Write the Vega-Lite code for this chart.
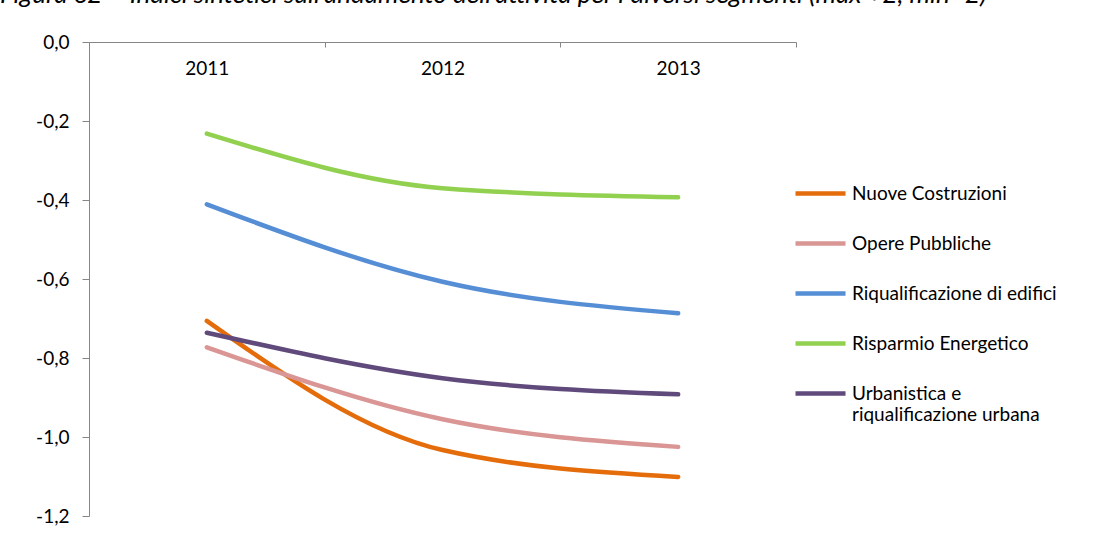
{
  "$schema": "https://vega.github.io/schema/vega-lite/v6.json",
  "autosize": {"type": "none"},
  "padding": {"left": 89, "top": 42, "right": 310, "bottom": 36},
  "width": 707,
  "height": 474,
  "config": {
    "view": {"stroke": null},
    "locale": {"number": {"decimal": ",", "thousands": ".", "grouping": [3], "currency": ["€", ""], "minus": "-"}},
    "axis": {"labelFont": "Lato", "labelFontSize": 19, "labelColor": "#000000", "domainColor": "#868686", "tickColor": "#868686", "grid": false, "title": null}
  },
  "title": {
    "text": "Figura 62 – Indici sintetici sull'andamento dell'attività per i diversi segmenti (max +2, min -2)",
    "font": "Lato", "fontSize": 26, "fontStyle": "italic", "fontWeight": "normal", "color": "#000000",
    "anchor": "start", "frame": "group", "dx": -89, "offset": 4, "baseline": "alphabetic"
  },
  "data": {"values": [
    {"year": "2011", "serie": "Nuove Costruzioni", "v": -0.706},
    {"year": "2012", "serie": "Nuove Costruzioni", "v": -1.033},
    {"year": "2013", "serie": "Nuove Costruzioni", "v": -1.101},
    {"year": "2011", "serie": "Opere Pubbliche", "v": -0.773},
    {"year": "2012", "serie": "Opere Pubbliche", "v": -0.955},
    {"year": "2013", "serie": "Opere Pubbliche", "v": -1.025},
    {"year": "2011", "serie": "Riqualificazione di edifici", "v": -0.411},
    {"year": "2012", "serie": "Riqualificazione di edifici", "v": -0.607},
    {"year": "2013", "serie": "Riqualificazione di edifici", "v": -0.687},
    {"year": "2011", "serie": "Risparmio Energetico", "v": -0.232},
    {"year": "2012", "serie": "Risparmio Energetico", "v": -0.370},
    {"year": "2013", "serie": "Risparmio Energetico", "v": -0.393},
    {"year": "2011", "serie": "Urbanistica e riqualificazione urbana", "v": -0.736},
    {"year": "2012", "serie": "Urbanistica e riqualificazione urbana", "v": -0.851},
    {"year": "2013", "serie": "Urbanistica e riqualificazione urbana", "v": -0.892}
  ]},
  "mark": {"type": "line", "interpolate": "monotone", "strokeWidth": 4.5, "strokeCap": "round"},
  "encoding": {
    "x": {"field": "year", "type": "ordinal",
      "scale": {"type": "band", "paddingInner": 0, "paddingOuter": 0},
      "axis": {"orient": "bottom", "offset": -474, "labelAngle": 0, "tickBand": "extent", "tickSize": 5, "labelPadding": 12, "labelBaseline": "top"}},
    "y": {"field": "v", "type": "quantitative",
      "scale": {"domain": [-1.2, 0], "nice": false, "zero": false},
      "axis": {"values": [0, -0.2, -0.4, -0.6, -0.8, -1.0, -1.2], "format": ".1f", "tickSize": 7, "labelPadding": 13}},
    "color": {"field": "serie", "type": "nominal",
      "scale": {
        "domain": ["Nuove Costruzioni", "Opere Pubbliche", "Riqualificazione di edifici", "Risparmio Energetico", "Urbanistica e riqualificazione urbana"],
        "range": ["#E46C0A", "#D99694", "#558ED5", "#92D050", "#604A7B"]},
      "legend": {
        "title": null, "orient": "none", "legendX": 704, "legendY": 124, "padding": 0,
        "symbolType": "stroke", "symbolSize": 2500, "symbolStrokeWidth": 4.5,
        "labelFont": "Lato", "labelFontSize": 19, "labelColor": "#000000", "labelOffset": 4, "labelLimit": 300,
        "rowPadding": 12,
        "labelExpr": "datum.label == 'Urbanistica e riqualificazione urbana' ? ['Urbanistica e', 'riqualificazione urbana'] : datum.label"
      }}
  }
}
